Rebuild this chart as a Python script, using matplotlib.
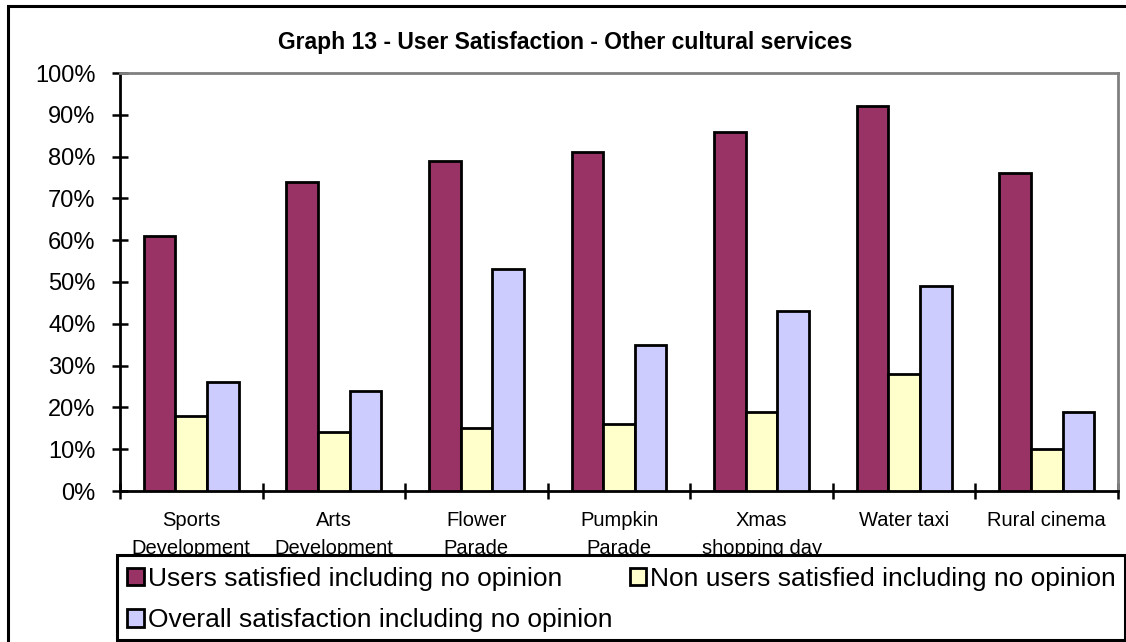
import matplotlib
matplotlib.use("Agg")
import matplotlib.pyplot as plt
import numpy as np
from matplotlib.patches import Rectangle, Patch
from matplotlib.ticker import FuncFormatter

plt.rcParams['font.family'] = ['Liberation Sans', 'DejaVu Sans']

categories = [
    ("Sports", "Development"),
    ("Arts", "Development"),
    ("Flower", "Parade"),
    ("Pumpkin", "Parade"),
    ("Xmas", "shopping day"),
    ("Water taxi", ""),
    ("Rural cinema", ""),
]
users_satisfied = [61, 74, 79, 81, 86, 92, 76]
non_users_satisfied = [18, 14, 15, 16, 19, 28, 10]
overall_satisfied = [26, 24, 53, 35, 43, 49, 19]

series = [
    ("Users satisfied including no opinion", users_satisfied, "#993366"),
    ("Non users satisfied including no opinion", non_users_satisfied, "#FFFFCC"),
    ("Overall satisfaction including no opinion", overall_satisfied, "#CCCCFF"),
]

W, H = 1126, 642
fig = plt.figure(figsize=(W / 100, H / 100), dpi=100)

# outer chart frame
fig.add_artist(Rectangle((8 / W, -0.1), 1.2, 1.1 - 6 / H, transform=fig.transFigure,
                         fill=False, edgecolor="black", linewidth=2.2, zorder=0))

ax = fig.add_axes([120 / W, 1 - 491 / H, (1118 - 120) / W, (491 - 73) / H])
x = np.arange(len(categories))
bw = 0.222
for i, (name, vals, col) in enumerate(series):
    ax.bar(x + (i - 1) * bw, vals, width=bw, color=col, edgecolor="black",
           linewidth=2.0, label=name, zorder=3)

ax.set_xlim(-0.5, len(categories) - 0.5)
ax.set_ylim(0, 100)
ax.set_yticks(np.arange(0, 101, 10))
ax.yaxis.set_major_formatter(FuncFormatter(lambda v, p: f"{int(v)}%"))
ax.set_xticks(np.arange(-0.5, len(categories), 1.0))
ax.set_xticklabels([])
ax.tick_params(axis="y", direction="inout", length=11, width=1.8, labelsize=17, pad=12)
ax.tick_params(axis="x", direction="inout", length=11, width=1.8)

for side in ("top", "right"):
    ax.spines[side].set_color("#808080")
    ax.spines[side].set_linewidth(2.0)
for side in ("left", "bottom"):
    ax.spines[side].set_color("black")
    ax.spines[side].set_linewidth(2.0)

# category labels, two lines each
xt = ax.get_xaxis_transform()
for xi, (l1, l2) in zip(x, categories):
    ax.text(xi, -(521 - 491) / 418, l1, transform=xt, ha="center", va="center",
            fontsize=14.5)
    if l2:
        ax.text(xi, -(548 - 491) / 418, l2, transform=xt, ha="center",
                va="center", fontsize=14.5)

fig.text(565 / W, 1 - 43 / H, "Graph 13 - User Satisfaction - Other cultural services",
         ha="center", va="center", fontsize=16.5, fontweight="bold")

# legend box covering the lower part of the chart
fig.add_artist(Rectangle((117 / W, 1 - 640 / H), (1125 - 117) / W, (640 - 555) / H,
                         transform=fig.transFigure, facecolor="white",
                         edgecolor="black", linewidth=2.2, zorder=5))

handles = [Patch(facecolor=c, edgecolor="black", linewidth=2.0) for _, _, c in series]
labels = [n for n, _, _ in series]
order = [0, 2, 1]
leg = fig.legend([handles[k] for k in order], [labels[k] for k in order],
                 loc="upper left", bbox_to_anchor=(127 / W, 1 - 567 / H),
                 ncol=2, frameon=False, fontsize=19, handlelength=0.64,
                 handleheight=0.64, handletextpad=0.15, columnspacing=0.65,
                 labelspacing=0.65, borderpad=0, borderaxespad=0)
leg.set_zorder(6)

fig.savefig("out.png", dpi=100)
